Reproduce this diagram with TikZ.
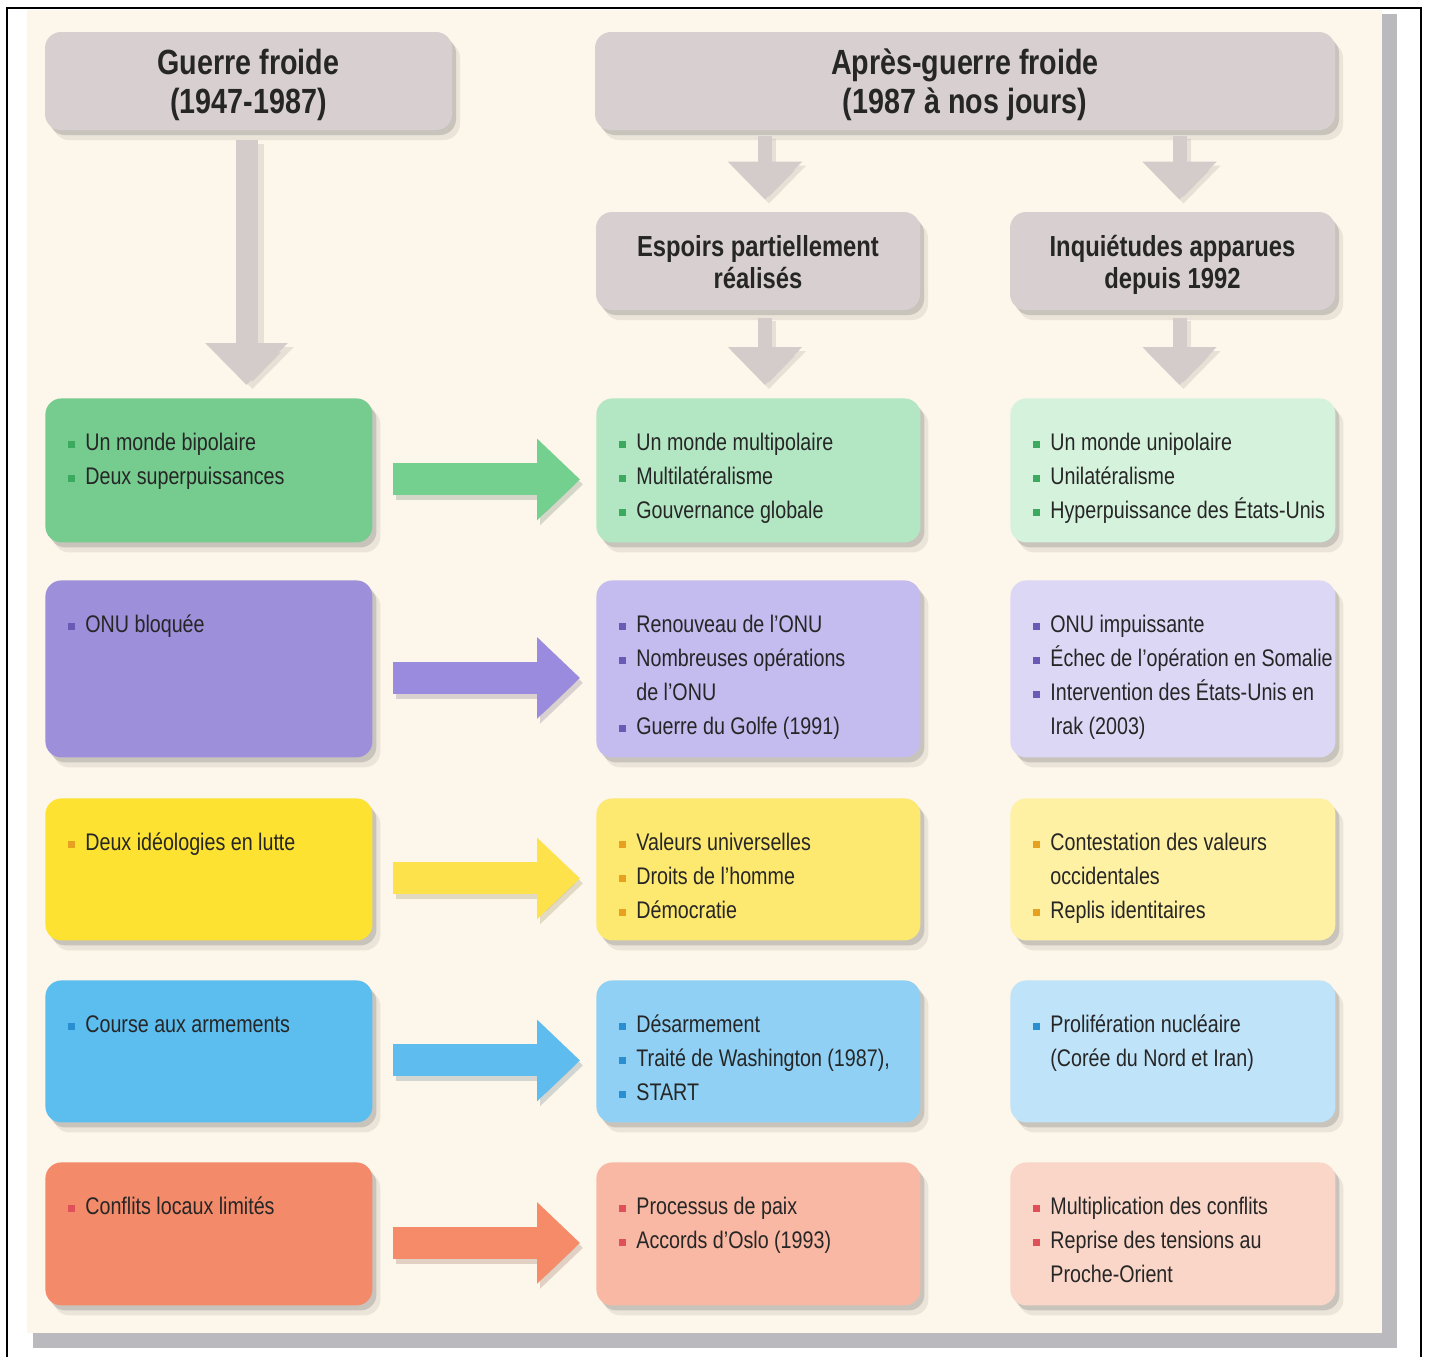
\documentclass[tikz,border=0pt]{standalone}
\usepackage{fontspec}
\setmainfont{Liberation Sans}[FakeStretch=0.82]
\usetikzlibrary{shadows,arrows.meta,calc}
\definecolor{cream}{HTML}{FDF6EA}
\definecolor{panelsh}{HTML}{B9B9BE}
\definecolor{hgray}{HTML}{D8D0D0}
\definecolor{garr}{HTML}{D3CCCB}
\definecolor{txt}{HTML}{262626}
% row colours
\definecolor{gA}{HTML}{76CB8F}\definecolor{gB}{HTML}{B3E6C2}\definecolor{gC}{HTML}{D5F2DD}\definecolor{gX}{HTML}{3BAA5E}\definecolor{aG}{HTML}{73D08F}
\definecolor{pA}{HTML}{9E8FDA}\definecolor{pB}{HTML}{C4BBEE}\definecolor{pC}{HTML}{DDD7F6}\definecolor{pX}{HTML}{6A5AB5}\definecolor{aP}{HTML}{9A8BDE}
\definecolor{yA}{HTML}{FDE232}\definecolor{yB}{HTML}{FDE870}\definecolor{yC}{HTML}{FEF1A3}\definecolor{yX}{HTML}{E8A020}\definecolor{aY}{HTML}{FDE24B}
\definecolor{bA}{HTML}{5CBDEF}\definecolor{bB}{HTML}{8FD0F4}\definecolor{bC}{HTML}{BFE3F8}\definecolor{bX}{HTML}{2A8FD0}\definecolor{aB}{HTML}{5EBDEE}
\definecolor{oA}{HTML}{F38A6A}\definecolor{oB}{HTML}{F8B8A3}\definecolor{oC}{HTML}{FAD6C8}\definecolor{oX}{HTML}{E0505A}\definecolor{aO}{HTML}{F58B68}
\newcommand\bl[1]{\par\leavevmode\llap{\textcolor{bulc}{\rule[1.3pt]{3.6pt}{3.6pt}}\hspace{5.2pt}}#1}
\newcommand\cl[1]{\par\leavevmode#1}
\newcommand\boxtxt[4]{\begin{minipage}[t][#2][t]{#1}\colorlet{bulc}{#3}\raggedright\setlength{\parindent}{0pt}\setlength{\leftskip}{20pt}\fontsize{12pt}{17pt}\selectfont\vspace*{9pt}\hbox{}#4\end{minipage}}
\newcommand\hdtext[2]{\raisebox{-2.5pt}[\height][\depth]{\begin{tabular}{@{}c@{}}#1\\#2\end{tabular}}}
\begin{document}
\begin{tikzpicture}[x=0.5pt,y=-0.5pt,
  softshadow/.style={
    drop shadow={shadow xshift=4pt, shadow yshift=-5pt, opacity=.12, fill=black!60},
    drop shadow={shadow xshift=2pt, shadow yshift=-2.5pt, opacity=.25, fill=black!60}},
  hdr/.style={fill=hgray, rounded corners=8pt, inner sep=0, text=txt,
    font=\fontsize{17.5pt}{19.5pt}\selectfont\bfseries, softshadow},
  shdr/.style={hdr, font=\fontsize{14.5pt}{16pt}\selectfont\bfseries},
  box/.style={rounded corners=8pt, inner sep=0, anchor=north west, text=txt, softshadow},
  harrow/.style={draw=#1, line width=16pt, -{Triangle[length=21.5pt,width=39.5pt]}},
  hsh/.style={draw=#1!45!black, opacity=.2, line width=16pt, -{Triangle[length=21.5pt,width=39.5pt]}},
  garrow/.style={draw=garr, line width=7pt, -{Triangle[length=19pt,width=36pt]}},
  gsh/.style={draw=black!50, opacity=.18, line width=7pt, -{Triangle[length=19pt,width=36pt]}},
  garrowbig/.style={draw=garr, line width=11pt, -{Triangle[length=21pt,width=40pt]}},
  gshbig/.style={draw=black!50, opacity=.18, line width=11pt, -{Triangle[length=21pt,width=40pt]}}
]
\useasboundingbox (0,0) rectangle (1429,1357);
\fill[white] (0,0) rectangle (1429,1357);
\fill[panelsh] (33,1333) rectangle (1397,1348);
\fill[panelsh] (1382,14) rectangle (1397,1348);
\fill[cream] (27,10) rectangle (1382,1333);
\draw[line width=1pt] (7,1357) -- (7,8) -- (1421,8) -- (1421,1357);

% headers
\node[hdr, minimum width=203.5pt, minimum height=49pt] (hgf) at (248.5,81) {\hdtext{Guerre froide}{(1947-1987)}};
\node[hdr, minimum width=370pt, minimum height=49pt] (hapg) at (965,81) {\hdtext{Après-guerre froide}{(1987 à nos jours)}};
\node[shdr, minimum width=162pt, minimum height=49pt] (hesp) at (758,261) {\hdtext{Espoirs partiellement}{réalisés}};
\node[shdr, minimum width=162.5pt, minimum height=49pt] (hinq) at (1172.5,261) {\hdtext{Inquiétudes apparues}{depuis 1992}};

% row 1
\node[box, fill=gA] (r1c1) at (45,398) {\boxtxt{163.5pt}{72pt}{gX}{\bl{Un monde bipolaire}\bl{Deux superpuissances}}};
\node[box, fill=gB] (r1c2) at (596,398) {\boxtxt{162pt}{72pt}{gX}{\bl{Un monde multipolaire}\bl{Multilatéralisme}\bl{Gouvernance globale}}};
\node[box, fill=gC] (r1c3) at (1010,398) {\boxtxt{162.5pt}{72pt}{gX}{\bl{Un monde unipolaire}\bl{Unilatéralisme}\bl{Hyperpuissance des États-Unis}}};
% row 2
\node[box, fill=pA] (r2c1) at (45,580) {\boxtxt{163.5pt}{88.5pt}{pX}{\bl{ONU bloquée}}};
\node[box, fill=pB] (r2c2) at (596,580) {\boxtxt{162pt}{88.5pt}{pX}{\bl{Renouveau de l’ONU}\bl{Nombreuses opérations}\cl{de l’ONU}\bl{Guerre du Golfe (1991)}}};
\node[box, fill=pC] (r2c3) at (1010,580) {\boxtxt{162.5pt}{88.5pt}{pX}{\bl{ONU impuissante}\bl{Échec de l’opération en Somalie}\bl{Intervention des États-Unis en}\cl{Irak (2003)}}};
% row 3
\node[box, fill=yA] (r3c1) at (45,798) {\boxtxt{163.5pt}{71pt}{yX}{\bl{Deux idéologies en lutte}}};
\node[box, fill=yB] (r3c2) at (596,798) {\boxtxt{162pt}{71pt}{yX}{\bl{Valeurs universelles}\bl{Droits de l’homme}\bl{Démocratie}}};
\node[box, fill=yC] (r3c3) at (1010,798) {\boxtxt{162.5pt}{71pt}{yX}{\bl{Contestation des valeurs}\cl{occidentales}\bl{Replis identitaires}}};
% row 4
\node[box, fill=bA] (r4c1) at (45,980) {\boxtxt{163.5pt}{71pt}{bX}{\bl{Course aux armements}}};
\node[box, fill=bB] (r4c2) at (596,980) {\boxtxt{162pt}{71pt}{bX}{\bl{Désarmement}\bl{Traité de Washington (1987),}\bl{START}}};
\node[box, fill=bC] (r4c3) at (1010,980) {\boxtxt{162.5pt}{71pt}{bX}{\bl{Prolifération nucléaire}\cl{(Corée du Nord et Iran)}}};
% row 5
\node[box, fill=oA] (r5c1) at (45,1162) {\boxtxt{163.5pt}{71.5pt}{oX}{\bl{Conflits locaux limités}}};
\node[box, fill=oB] (r5c2) at (596,1162) {\boxtxt{162pt}{71.5pt}{oX}{\bl{Processus de paix}\bl{Accords d’Oslo (1993)}}};
\node[box, fill=oC] (r5c3) at (1010,1162) {\boxtxt{162.5pt}{71.5pt}{oX}{\bl{Multiplication des conflits}\bl{Reprise des tensions au}\cl{Proche-Orient}}};

% grey vertical arrows
\draw[gshbig] ($(hgf.south)+(4,14)$) -- ($(hgf.south |- r1c1.north)+(4,-9)$);
\draw[garrowbig] ($(hgf.south)+(-2,10)$) -- ($(hgf.south |- r1c1.north)+(-2,-13)$);
\foreach \t in {hesp,hinq}{
  \draw[gsh] ($(hapg.south -| \t.north)+(11,9)$) -- ($(\t.north)+(11,-8)$);
  \draw[garrow] ($(hapg.south -| \t.north)+(7,6)$) -- ($(\t.north)+(7,-12)$);
}
\draw[gsh] ($(hesp.south)+(11,11)$) -- ($(hesp.south |- r1c2.north)+(11,-9)$);
\draw[garrow] ($(hesp.south)+(7,8)$) -- ($(hesp.south |- r1c2.north)+(7,-13)$);
\draw[gsh] ($(hinq.south)+(11,11)$) -- ($(hinq.south |- r1c3.north)+(11,-9)$);
\draw[garrow] ($(hinq.south)+(7,8)$) -- ($(hinq.south |- r1c3.north)+(7,-13)$);

% coloured horizontal arrows
\foreach \r/\c in {1/aG,2/aP,3/aY,4/aB,5/aO}{
  \draw[hsh=\c] ($(r\r c1.east)+(23,14)$) -- ($(r\r c2.west)+(-13,14)$);
  \draw[harrow=\c] ($(r\r c1.east)+(20,9)$) -- ($(r\r c2.west)+(-16,9)$);
}
\end{tikzpicture}
\end{document}
